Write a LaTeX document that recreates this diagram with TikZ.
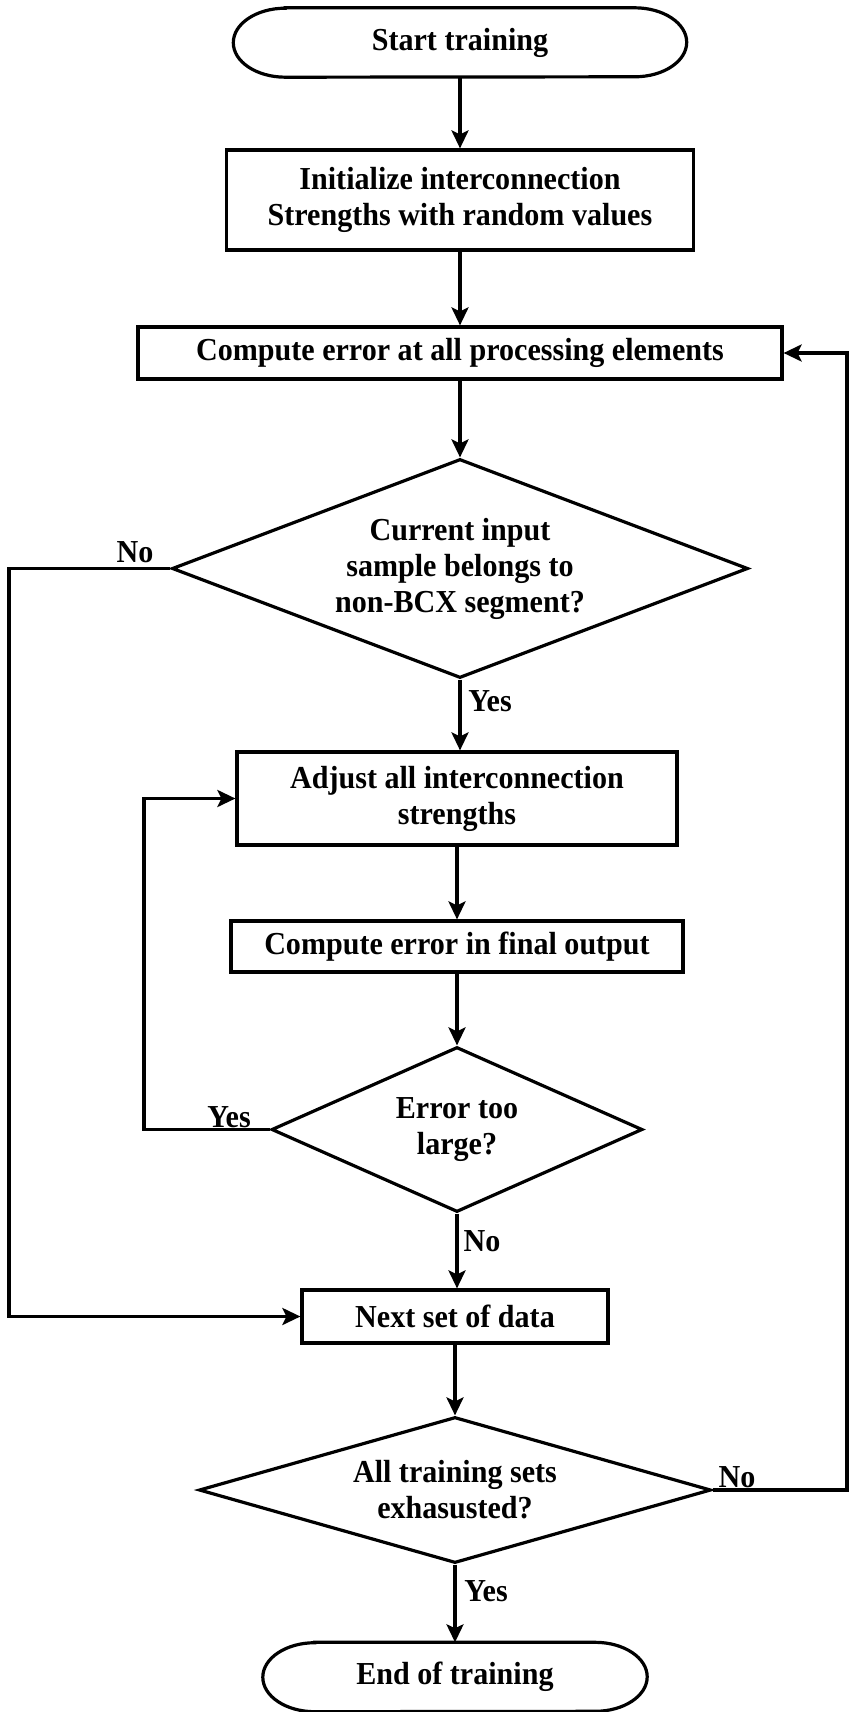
\documentclass[tikz,border=0pt]{standalone}
\usepackage{fontspec}
\newfontfamily\chartfont{Liberation Serif Bold}[FakeStretch=0.94]
\usetikzlibrary{shapes.geometric,arrows.meta}

\begin{document}
\begin{tikzpicture}[x=1pt, y=-1pt,
  every node/.style={font=\chartfont\fontsize{32}{36}\selectfont},
  box/.style={draw, line width=3.2pt, rectangle, inner sep=0pt, align=center},
  term/.style={rectangle, inner sep=0pt, align=center},
  outline/.style={line width=3.2pt},
  decision/.style={draw, line width=3.2pt, diamond, inner sep=0pt, align=center},
  flow/.style={line width=3.2pt, -{Stealth[length=18pt,width=17pt,inset=4pt]}},
  lbl/.style={inner sep=0pt}]

\useasboundingbox (0,0) rectangle (850,1712);

% main column of steps
\node[term, minimum width=453pt, minimum height=69pt] (start) at (460,42.5) {Start training};
\node[box, minimum width=467pt, minimum height=100pt] (init) at (460,200) {Initialize interconnection\\Strengths with random values};
\node[box, minimum width=644pt, minimum height=52pt] (err) at (460,353) {Compute error at all processing elements};
\node[decision, aspect=2.63, minimum width=576pt, minimum height=219pt] (seg) at (460,568.5) {Current input\\sample belongs to\\non-BCX segment?};
\node[box, minimum width=440pt, minimum height=93pt] (adj) at (457,798.5) {Adjust all interconnection\\strengths};
\node[box, minimum width=452pt, minimum height=51pt] (fin) at (457,946.5) {Compute error in final output};
\node[decision, aspect=2.25, minimum width=371pt, minimum height=165pt] (big) at (457,1129.5) {Error too\\large?};
\node[box, minimum width=306pt, minimum height=53pt] (next) at (455,1316.5) {Next set of data};
\node[decision, aspect=3.5, minimum width=512pt, minimum height=146pt] (done) at (455,1490) {All training sets\\exhasusted?};
\node[term, minimum width=384pt, minimum height=69pt] (stop) at (455,1677) {End of training};

% terminal outlines with elliptical ends
\foreach \t in {start,stop}{
  \draw[outline] ([xshift=52pt]\t.north west) -- ([xshift=-52pt]\t.north east)
    arc[start angle=90, end angle=-90, x radius=52pt, y radius=34.5pt]
    -- ([xshift=52pt]\t.south west)
    arc[start angle=270, end angle=90, x radius=52pt, y radius=34.5pt] -- cycle;
}

% x positions of the return lines
\coordinate (lft) at (9,0);
\coordinate (mid) at (144,0);
\coordinate (rgt) at (847,0);

% straight-down flow
\draw[flow] (start.south) -- (start.south |- init.north);
\draw[flow] (init) -- (err);
\draw[flow] (err) -- (seg);
\draw[flow] (seg.south) -- (seg.south |- adj.north);
\draw[flow] (adj) -- (fin);
\draw[flow] (fin) -- (big);
\draw[flow] (big.south) -- (big.south |- next.north);
\draw[flow] (next) -- (done);
\draw[flow] (done) -- (stop);

% return paths
\draw[flow] (seg.west) -- (seg.west -| lft) -- (lft |- next.west) -- (next.west);
\draw[flow] (big.west) -- (big.west -| mid) -- (mid |- adj.west) -- (adj.west);
\draw[flow] (done.east) -- (done.east -| rgt) -- (rgt |- err.east) -- (err.east);

% branch labels
\node[lbl] (noA) at (135,552) {No};
\node[lbl] (yesA) at (490,701) {Yes};
\node[lbl] (yesB) at (229,1117) {Yes};
\node[lbl] (noB) at (482,1241) {No};
\node[lbl] (noC) at (737,1477) {No};
\node[lbl] (yesC) at (486,1591) {Yes};
\end{tikzpicture}
\end{document}
